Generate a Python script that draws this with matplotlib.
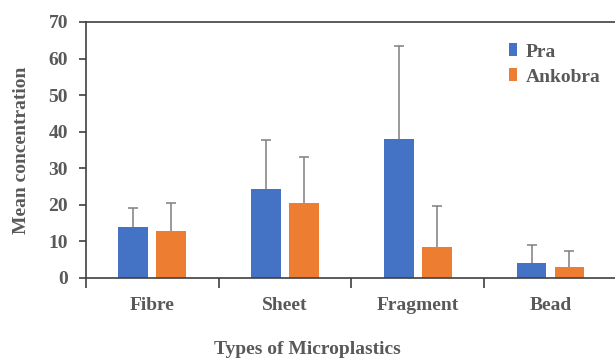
import matplotlib
matplotlib.use("Agg")
import matplotlib.pyplot as plt
import numpy as np

plt.rcParams['font.family'] = ['Liberation Serif', 'DejaVu Serif']
plt.rcParams['font.weight'] = 'bold'

categories = ["Fibre", "Sheet", "Fragment", "Bead"]
pra_mean = [14.0, 24.3, 37.9, 4.0]
pra_err = [5.1, 13.3, 25.6, 4.9]
ankobra_mean = [12.9, 20.5, 8.5, 3.1]
ankobra_err = [7.7, 12.7, 11.3, 4.3]
yticks = [0, 10, 20, 30, 40, 50, 60, 70]

TEXT = "#595959"
BLUE = "#4472C4"
ORANGE = "#ED7D31"
ERR = "#7F7F7F"

fig = plt.figure(figsize=(6.15, 3.58), dpi=100)
ax = fig.add_axes([86 / 615, 1 - 278 / 358, 1 - 86 / 615 + 0.003, (278 - 22) / 358])

x = np.arange(len(categories))
w = 0.225
off = 0.143
zeros = [0] * len(categories)
ekw = dict(ecolor=ERR, elinewidth=1.1, capsize=3.5, capthick=1.1)

b1 = ax.bar(x - off, pra_mean, w, color=BLUE, label="Pra", zorder=2,
            yerr=[zeros, pra_err], error_kw=ekw)
b2 = ax.bar(x + off, ankobra_mean, w, color=ORANGE, label="Ankobra", zorder=2,
            yerr=[zeros, ankobra_err], error_kw=ekw)
# only the upper caps are wanted
for bc in (b1, b2):
    caps = bc.errorbar.lines[1]
    caps[0].set_visible(False)

ax.set_xlim(-0.5, 3.5)
ax.set_ylim(0, 70)
ax.set_yticks(yticks, labels=[str(v) for v in yticks], fontweight='bold')

# category ticks sit on the boundaries, labels in the middle
ax.set_xticks(np.arange(-0.5, 3.6, 1.0))
ax.set_xticklabels([])
ax.set_xticks(x, minor=True)
ax.set_xticklabels(categories, minor=True, fontweight='bold')
ax.tick_params(axis='x', which='minor', length=0, pad=14, labelsize=14, labelcolor=TEXT)
ax.tick_params(axis='x', which='major', length=7, width=1.2, color="#404040", direction='out')
ax.tick_params(axis='y', length=5, width=1.2, color="#404040", labelsize=14, labelcolor=TEXT, pad=8)

for s in ['left', 'bottom', 'top']:
    ax.spines[s].set_color("#404040")
    ax.spines[s].set_linewidth(1.2)
ax.spines['right'].set_visible(False)

ax.set_ylabel("Mean concentration", fontsize=14, color=TEXT, labelpad=13, fontweight='bold')
fig.text(307 / 615, 1 - 350 / 358, "Types of Microplastics",
         ha='center', va='center', fontsize=14, color=TEXT, fontweight='bold')

leg = ax.legend(loc='upper left', bbox_to_anchor=(0.778, 0.955), frameon=False,
                handlelength=0.42, handleheight=0.65, handletextpad=0.45,
                labelspacing=0.4, borderpad=0, prop={'weight': 'bold', 'size': 14})
for t in leg.get_texts():
    t.set_color(TEXT)

fig.savefig("out.png", dpi=100)
